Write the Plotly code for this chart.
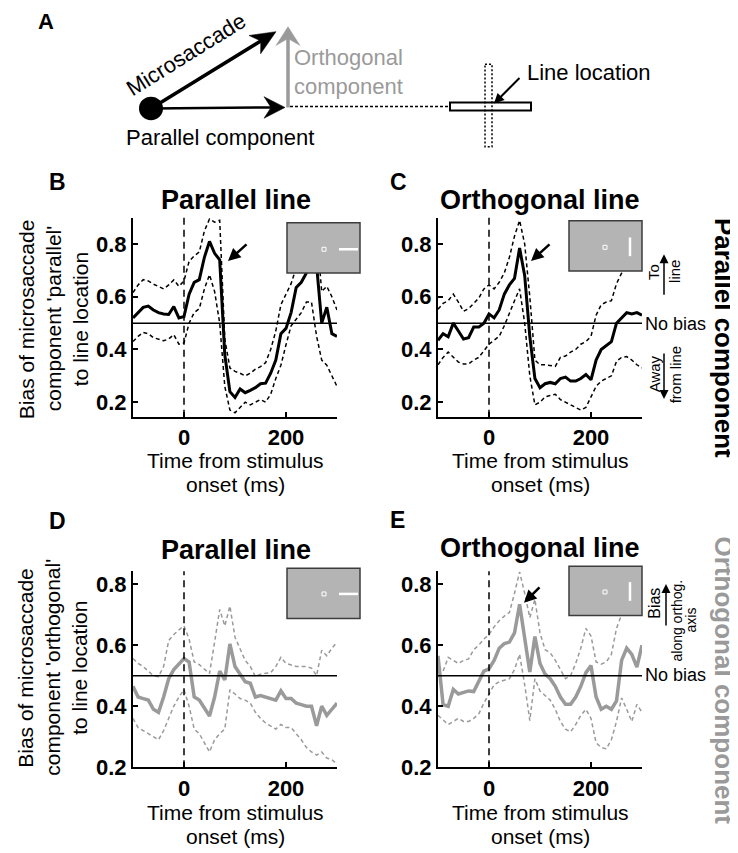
import plotly.graph_objects as go
import math

W, H = 738, 853
FONT = "Liberation Sans, Arial, sans-serif"
GRAY = "#9a9a9a"

# ---------------- data ----------------
time_ms = list(range(-100, 301, 10))

# B: parallel component, parallel line
par_comp_par_line_mean = [0.52, 0.54, 0.56, 0.565, 0.55, 0.54, 0.535, 0.533, 0.563, 0.52,
                          0.525, 0.61, 0.655, 0.665, 0.75, 0.81, 0.765, 0.74, 0.38, 0.24,
                          0.218, 0.25, 0.236, 0.245, 0.255, 0.27, 0.272, 0.31, 0.36, 0.46,
                          0.48, 0.54, 0.635, 0.655, 0.69, 0.78, 0.72, 0.50, 0.56, 0.46,
                          0.45]
par_comp_par_line_hi = [0.616, 0.645, 0.665, 0.66, 0.648, 0.64, 0.63, 0.645, 0.664, 0.64,
                        0.66, 0.735, 0.755, 0.77, 0.85, 0.895, 0.883, 0.89, 0.44, 0.33,
                        0.317, 0.31, 0.30, 0.31, 0.325, 0.335, 0.35, 0.40, 0.47, 0.57,
                        0.61, 0.65, 0.71, 0.78, 0.83, 0.87, 0.85, 0.62, 0.64, 0.60,
                        0.55]
par_comp_par_line_lo = [0.43, 0.45, 0.465, 0.46, 0.445, 0.44, 0.433, 0.44, 0.456, 0.42,
                        0.425, 0.50, 0.54, 0.555, 0.63, 0.684, 0.62, 0.50, 0.26, 0.17,
                        0.16, 0.18, 0.20, 0.19, 0.20, 0.21, 0.20, 0.23, 0.29, 0.34,
                        0.418, 0.49, 0.515, 0.54, 0.58, 0.58, 0.45, 0.36, 0.34, 0.30,
                        0.26]

# C: parallel component, orthogonal line
par_comp_orth_line_mean = [0.435, 0.46, 0.448, 0.50, 0.47, 0.44, 0.445, 0.485, 0.485, 0.50,
                           0.535, 0.52, 0.55, 0.61, 0.645, 0.67, 0.785, 0.68, 0.45, 0.29,
                           0.255, 0.27, 0.275, 0.27, 0.29, 0.295, 0.28, 0.28, 0.29, 0.305,
                           0.285, 0.36, 0.40, 0.415, 0.43, 0.50, 0.52, 0.54, 0.535, 0.54,
                           0.53]
par_comp_orth_line_hi = [0.553, 0.575, 0.585, 0.61, 0.58, 0.545, 0.555, 0.575, 0.595, 0.63,
                         0.645, 0.63, 0.655, 0.69, 0.75, 0.83, 0.89, 0.80, 0.60, 0.36,
                         0.342, 0.342, 0.34, 0.336, 0.37, 0.375, 0.39, 0.40, 0.42, 0.43,
                         0.45, 0.53, 0.57, 0.58, 0.585, 0.65, 0.69, 0.74, 0.80, 0.82,
                         0.82]
par_comp_orth_line_lo = [0.342, 0.37, 0.39, 0.37, 0.352, 0.345, 0.345, 0.36, 0.37, 0.395,
                         0.42, 0.435, 0.45, 0.49, 0.54, 0.585, 0.63, 0.50, 0.30, 0.19,
                         0.20, 0.22, 0.225, 0.23, 0.21, 0.20, 0.19, 0.18, 0.17, 0.18,
                         0.22, 0.26, 0.28, 0.29, 0.30, 0.355, 0.37, 0.373, 0.36, 0.342,
                         0.33]

# D: orthogonal component, parallel line
orth_comp_par_line_mean = [0.465, 0.43, 0.425, 0.42, 0.39, 0.38, 0.43, 0.49, 0.52, 0.54,
                           0.556, 0.545, 0.43, 0.42, 0.395, 0.368, 0.43, 0.515, 0.486, 0.604,
                           0.53, 0.505, 0.48, 0.475, 0.43, 0.435, 0.43, 0.425, 0.42, 0.45,
                           0.425, 0.425, 0.41, 0.405, 0.40, 0.40, 0.336, 0.40, 0.37, 0.39,
                           0.41]
orth_comp_par_line_hi = [0.556, 0.54, 0.53, 0.515, 0.50, 0.497, 0.53, 0.615, 0.635, 0.65,
                         0.663, 0.62, 0.545, 0.536, 0.52, 0.507, 0.61, 0.717, 0.663, 0.728,
                         0.626, 0.588, 0.55, 0.53, 0.497, 0.505, 0.507, 0.51, 0.53, 0.56,
                         0.54, 0.535, 0.53, 0.53, 0.53, 0.525, 0.50, 0.583, 0.565, 0.59,
                         0.61]
orth_comp_par_line_lo = [0.36, 0.33, 0.32, 0.31, 0.30, 0.29, 0.32, 0.36, 0.40, 0.43,
                         0.454, 0.40, 0.325, 0.31, 0.28, 0.25, 0.29, 0.31, 0.325, 0.454,
                         0.44, 0.425, 0.42, 0.41, 0.38, 0.36, 0.345, 0.335, 0.325, 0.34,
                         0.33, 0.33, 0.31, 0.29, 0.265, 0.25, 0.24, 0.25, 0.23, 0.225,
                         0.21]

# E: orthogonal component, orthogonal line
orth_comp_orth_line_mean = [0.565, 0.405, 0.40, 0.455, 0.44, 0.445, 0.45, 0.448, 0.48, 0.515,
                            0.522, 0.55, 0.59, 0.605, 0.61, 0.64, 0.734, 0.62, 0.512, 0.628,
                            0.54, 0.505, 0.49, 0.465, 0.43, 0.406, 0.406, 0.43, 0.465, 0.51,
                            0.533, 0.43, 0.39, 0.40, 0.39, 0.417, 0.55, 0.59, 0.57, 0.528,
                            0.60]
orth_comp_orth_line_hi = [0.53, 0.515, 0.56, 0.55, 0.54, 0.55, 0.555, 0.585, 0.60, 0.62,
                          0.635, 0.66, 0.68, 0.695, 0.707, 0.77, 0.84, 0.77, 0.69, 0.75,
                          0.64, 0.585, 0.575, 0.55, 0.52, 0.49, 0.50, 0.54, 0.59, 0.655,
                          0.63, 0.545, 0.538, 0.545, 0.57, 0.655, 0.70, 0.75, 0.78, 0.80,
                          0.80]
orth_comp_orth_line_lo = [0.37, 0.355, 0.34, 0.35, 0.36, 0.35, 0.35, 0.36, 0.375, 0.41,
                          0.44, 0.47, 0.48, 0.485, 0.49, 0.52, 0.57, 0.47, 0.353, 0.49,
                          0.45, 0.435, 0.42, 0.39, 0.35, 0.325, 0.316, 0.34, 0.37, 0.39,
                          0.36, 0.28, 0.265, 0.26, 0.29, 0.35, 0.427, 0.39, 0.35, 0.406,
                          0.38]

x_tick_vals = [0, 200]
y_tick_vals = [0.2, 0.4, 0.6, 0.8]
y_tick_text = ["0.2", "0.4", "0.6", "0.8"]
no_bias_level = 0.5
onset_time = 0


# ---------------- helpers (pixel -> paper) ----------------
def px(x):
    return x / W


def py(y):
    return 1 - y / H


fig = go.Figure()
shapes = []
ann = []


def text(x, y, s, size=21, color="black", bold=False, angle=0, xanchor="center", yanchor="middle"):
    if bold:
        s = "<b>" + s + "</b>"
    ann.append(dict(x=px(x), y=py(y), xref="paper", yref="paper", text=s, showarrow=False,
                    font=dict(size=size, color=color, family=FONT), textangle=angle,
                    xanchor=xanchor, yanchor=yanchor, borderpad=0))


def arrow(tip, tail, width=2.0, head=2, size=1.0, color="black"):
    ann.append(dict(x=px(tip[0]), y=py(tip[1]), xref="paper", yref="paper",
                    ax=tail[0] - tip[0], ay=tail[1] - tip[1], axref="pixel", ayref="pixel",
                    text="", showarrow=True, arrowhead=head, arrowsize=size,
                    arrowwidth=width, arrowcolor=color, standoff=0))


def pline(x0, y0, x1, y1, color="black", width=2, dash="solid"):
    shapes.append(dict(type="line", xref="paper", yref="paper", x0=px(x0), y0=py(y0),
                       x1=px(x1), y1=py(y1), line=dict(color=color, width=width, dash=dash),
                       layer="above"))


def prect(x0, y0, x1, y1, fill=None, color="black", width=1.5, dash="solid"):
    d = dict(type="rect", xref="paper", yref="paper", x0=px(x0), y0=py(y0), x1=px(x1), y1=py(y1),
             line=dict(color=color, width=width, dash=dash), layer="above")
    d["fillcolor"] = fill if fill else "rgba(0,0,0,0)"
    shapes.append(d)


def ppath(points, fill="black"):
    s = "M " + " L ".join(f"{px(a):.5f},{py(b):.5f}" for a, b in points) + " Z"
    shapes.append(dict(type="path", xref="paper", yref="paper", path=s, fillcolor=fill,
                       line=dict(color=fill, width=0.5), layer="above"))


def head_pts(tip, tail, length, half, notch):
    dx, dy = tip[0] - tail[0], tip[1] - tail[1]
    n = math.hypot(dx, dy)
    ux, uy = dx / n, dy / n
    bx, by = tip[0] - length * ux, tip[1] - length * uy
    qx, qy = -uy, ux
    p1 = (bx + half * qx, by + half * qy)
    p2 = (bx - half * qx, by - half * qy)
    pn = (tip[0] - (length - notch) * ux, tip[1] - (length - notch) * uy)
    return [tip, p1, pn, p2], pn


# ---------------- axes / panels ----------------
axis_common = dict(showline=True, linecolor="black", linewidth=2, ticks="inside", ticklen=5,
                   tickwidth=2, tickcolor="black", showgrid=False, zeroline=False,
                   tickfont=dict(size=22, color="black", family=FONT, weight="bold"),
                   fixedrange=True)

X_LEFT = (125, 329)
X_RIGHT = (430, 634)
Y_TOP = (213, 415)
Y_BOT = (572, 771)
R_TOP = [0.145, 0.9]
R_BOT = [0.2, 0.842]

panels = [
    ("x", "y", X_LEFT, Y_TOP, R_TOP, par_comp_par_line_mean, par_comp_par_line_hi, par_comp_par_line_lo, "black", 3),
    ("x2", "y2", X_RIGHT, Y_TOP, R_TOP, par_comp_orth_line_mean, par_comp_orth_line_hi, par_comp_orth_line_lo, "black", 3),
    ("x3", "y3", X_LEFT, Y_BOT, R_BOT, orth_comp_par_line_mean, orth_comp_par_line_hi, orth_comp_par_line_lo, GRAY, 3.5),
    ("x4", "y4", X_RIGHT, Y_BOT, R_BOT, orth_comp_orth_line_mean, orth_comp_orth_line_hi, orth_comp_orth_line_lo, GRAY, 3.5),
]

layout_axes = {}
for xa, ya, xd, yd, yr, mean, hi, lo, col, lw in panels:
    xkey = "xaxis" + xa[1:]
    ykey = "yaxis" + ya[1:]
    layout_axes[xkey] = dict(axis_common, domain=[px(xd[0]), px(xd[1])], range=[-100, 300],
                             anchor=ya, tickvals=x_tick_vals)
    layout_axes[ykey] = dict(axis_common, domain=[py(yd[1]), py(yd[0])], range=yr,
                             anchor=xa, tickvals=y_tick_vals, ticktext=y_tick_text)
    for series in (hi, lo):
        fig.add_trace(go.Scatter(x=time_ms, y=series, xaxis=xa, yaxis=ya, mode="lines",
                                 line=dict(color=col, width=1.5, dash="4px,3px"),
                                 hoverinfo="skip", showlegend=False))
    fig.add_trace(go.Scatter(x=time_ms, y=mean, xaxis=xa, yaxis=ya, mode="lines",
                             line=dict(color=col, width=lw), hoverinfo="skip", showlegend=False))
    # stimulus onset
    shapes.append(dict(type="line", xref=xa, yref=ya + " domain", x0=onset_time, x1=onset_time,
                       y0=0, y1=1, line=dict(color="black", width=1.5, dash="7px,5px"), layer="above"))
    # no-bias line
    shapes.append(dict(type="line", xref=xa + " domain", yref=ya, x0=0, x1=1,
                       y0=no_bias_level, y1=no_bias_level, line=dict(color="black", width=1.5),
                       layer="above"))

# ---------------- insets ----------------
INSET_FILL = "#b4b4b4"
INSET_EDGE = "#3c3c3c"


def inset(x0, y0, x1, y1, fix, bar):
    prect(x0, y0, x1, y1, fill=INSET_FILL, color=INSET_EDGE, width=1.5)
    prect(fix[0] - 2, fix[1] - 2, fix[0] + 2, fix[1] + 2, color="white", width=1)
    pline(bar[0], bar[1], bar[2], bar[3], color="white", width=2.5)


inset(279, 218, 352, 269, (316, 245), (331, 245, 350, 245))
inset(561, 216, 634, 267, (597, 243), (622, 233, 622, 252))
inset(279, 569, 352, 620, (316, 595), (331, 595, 350, 595))
inset(561, 567, 634, 617, (597, 593), (622, 583, 622, 602))

# ---------------- panel A diagram ----------------
dot = (143, 102)
shapes.append(dict(type="circle", xref="paper", yref="paper", x0=px(dot[0] - 12), x1=px(dot[0] + 12),
                   y0=py(dot[1] + 12), y1=py(dot[1] - 12), fillcolor="black",
                   line=dict(color="black", width=0), layer="above"))
# microsaccade arrow
pts, notch = head_pts((268, 24), dot, 25, 11, 7)
pline(dot[0], dot[1], notch[0], notch[1], width=3.5)
ppath(pts)
# parallel component arrow
pline(dot[0], dot[1], 266, 101, width=2.5)
ppath([(277, 101), (256, 90), (263, 101), (256, 112)])
# orthogonal (gray) arrow
pline(280, 101, 280, 30, color=GRAY, width=3.5)
ppath([(280, 19), (292, 38), (280, 31), (268, 38)], fill=GRAY)
# dotted line to the stimulus
pline(282, 100, 442, 100, width=1.5, dash="3px,2px")
# stimulus lines
prect(442, 96, 523, 104, fill="white", color="black", width=2)
prect(477, 57, 484, 141, color="black", width=1.5, dash="2px,2px")

text(38, 14, "A", size=22, bold=True)
text(178, 47, "Microsaccade", size=22, angle=-32)
text(285, 50, "Orthogonal", size=22, color=GRAY, xanchor="left")
text(285, 80, "component", size=22, color=GRAY, xanchor="left")
text(212, 132, "Parallel component", size=22)
text(518, 65, "Line location", size=22, xanchor="left")
arrow((486, 97), (513, 70), width=2)

# ---------------- panel labels / titles ----------------
text(50, 177, "B", size=23, bold=True)
text(390, 177, "C", size=23, bold=True)
text(50, 521, "D", size=23, bold=True)
text(389, 520, "E", size=23, bold=True)

text(228, 195, "Parallel line", size=27, bold=True)
text(532, 195, "Orthogonal line", size=27, bold=True)
text(228, 550, "Parallel line", size=27, bold=True)
text(532, 548, "Orthogonal line", size=27, bold=True)

for cx in (227, 532):
    text(cx, 459, "Time from stimulus", size=21)
    text(cx, 484, "onset (ms)", size=21)
    text(cx, 817, "Time from stimulus", size=21)
    text(cx, 841, "onset (ms)", size=21)

# y-axis titles
for i, s in enumerate(["Bias of microsaccade", "component 'parallel'", "to line location"]):
    text(18 + 27 * i, 316, s, size=21, angle=-90)
for i, s in enumerate(["Bias of microsaccade", "component 'orthogonal'", "to line location"]):
    text(18 + 27 * i, 670, s, size=21, angle=-90)

# peak arrows
arrow((220, 257), (240, 239), width=2.5, size=1.0)
arrow((523, 257), (543, 239), width=2.5, size=1.0)
arrow((516, 604), (533, 587), width=2.5, size=1.0)

# right-side legends
text(636, 321, "No bias", size=18, xanchor="left")
text(636, 677, "No bias", size=18, xanchor="left")
text(646, 268, "To", size=15, angle=-90)
arrow((656, 250), (656, 292), width=1.5, size=1.2)
text(667, 268, "line", size=15, angle=-90)
text(646, 372, "Away", size=15, angle=-90)
arrow((656, 397), (656, 350), width=1.5, size=1.2)
text(667, 372, "from line", size=15, angle=-90)
text(647, 605, "Bias", size=16, angle=-90)
arrow((658, 585), (658, 628), width=1.5, size=1.2)
text(669, 622, "along orthog.", size=14, angle=-90)
text(683, 622, "axis", size=14, angle=-90)

text(716, 335, "Parallel component", size=26, bold=True, angle=90)
text(716, 683, "Orthogonal component", size=26, bold=True, angle=90, color=GRAY)

fig.update_layout(width=W, height=H, margin=dict(l=0, r=0, t=0, b=0, pad=0),
                  paper_bgcolor="white", plot_bgcolor="white",
                  font=dict(family=FONT, color="black"),
                  shapes=shapes, annotations=ann, showlegend=False, **layout_axes)

fig.write_html("out.html", config={"displayModeBar": False, "staticPlot": True})
